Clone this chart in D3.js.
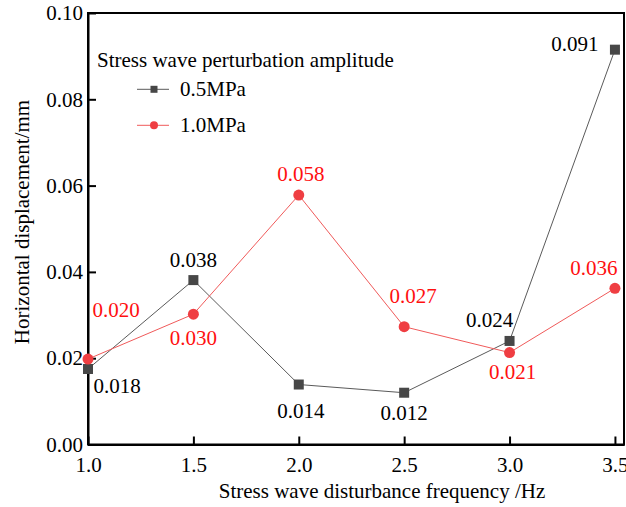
<!DOCTYPE html>
<html>
<head>
<meta charset="utf-8">
<script src="https://cdn.jsdelivr.net/npm/d3@7"></script>
<style>
  html, body { margin: 0; padding: 0; background: #fff; }
  svg { display: block; font-family: "Liberation Serif", "Times New Roman", serif; }
</style>
</head>
<body>
<svg id="chart" width="626" height="507"></svg>
<script>
// ---- data ----
const frequencies = [1.0, 1.5, 2.0, 2.5, 3.0, 3.5];
const seriesNames = ["0.5MPa", "1.0MPa"];
const values05 = [0.0175, 0.0381, 0.0139, 0.0120, 0.0240, 0.0915];
const values10 = [0.0198, 0.0302, 0.0578, 0.0273, 0.0213, 0.0362];
const labels05 = ["0.018", "0.038", "0.014", "0.012", "0.024", "0.091"];
const labels10 = ["0.020", "0.030", "0.058", "0.027", "0.021", "0.036"];
const xTicks = [1.0, 1.5, 2.0, 2.5, 3.0, 3.5];
const yTicks = [0.00, 0.02, 0.04, 0.06, 0.08, 0.10];
const legendTitle = "Stress wave perturbation amplitude";
const xTitle = "Stress wave disturbance frequency /Hz";
const yTitle = "Horizontal displacement/mm";

// ---- label placement (pixel offsets from each point) ----
const offsets05 = [[29, 24], [0, -13], [2, 33], [0, 27], [-20, -14], [-40, 1]];
const offsets10 = [[28, -42], [0, 31], [2, -14], [9, -24], [3, 26], [-21, -13]];

const W = 626, H = 507;
const margin = { left: 88, right: 2, top: 13, bottom: 62.5 };
const svg = d3.select("#chart");

const x = d3.scaleLinear().domain([1.0, 3.543]).range([margin.left, W - margin.right]);
const y = d3.scaleLinear().domain([0, 0.1]).range([H - margin.bottom, margin.top]);

const FONT = 21;

// frame
svg.append("rect")
  .attr("x", x.range()[0]).attr("y", y.range()[1])
  .attr("width", x.range()[1] - x.range()[0])
  .attr("height", y.range()[0] - y.range()[1])
  .attr("fill", "none").attr("stroke", "#000").attr("stroke-width", 2);

// axes
const xAxis = d3.axisBottom(x).tickValues(xTicks).tickSizeInner(-8).tickSizeOuter(0)
  .tickFormat(d3.format(".1f")).tickPadding(17);
const gx = svg.append("g").attr("transform", `translate(0,${y.range()[0]})`).call(xAxis);
gx.select(".domain").attr("stroke-width", 2);
gx.selectAll(".tick line").attr("stroke-width", 2);
gx.selectAll(".tick text").attr("font-size", FONT).attr("font-family", "Liberation Serif").attr("fill", "#000")
  .attr("dy", "0.5em");

const yAxis = d3.axisLeft(y).tickValues(yTicks).tickSizeInner(-8).tickSizeOuter(0)
  .tickFormat(d3.format(".2f")).tickPadding(5);
const gy = svg.append("g").attr("transform", `translate(${x.range()[0]},0)`).call(yAxis);
gy.select(".domain").attr("stroke-width", 2);
gy.selectAll(".tick line").attr("stroke-width", 2);
gy.selectAll(".tick text").attr("font-size", FONT).attr("font-family", "Liberation Serif").attr("fill", "#000");

// titles
svg.append("text").attr("x", 382).attr("y", 498).attr("text-anchor", "middle")
  .attr("font-size", FONT).text(xTitle);
svg.append("text").attr("transform", "translate(29,222) rotate(-90)").attr("text-anchor", "middle")
  .attr("font-size", FONT).text(yTitle);

// series
const series = [
  { name: seriesNames[0], values: values05, labels: labels05, offsets: offsets05,
    line: "#5a5a5a", marker: "#474747", text: "#000", shape: "square" },
  { name: seriesNames[1], values: values10, labels: labels10, offsets: offsets10,
    line: "#f05a5a", marker: "#ef3e42", text: "#ff1010", shape: "circle" }
];

const lineGen = d3.line().x((d, i) => x(frequencies[i])).y(d => y(d));

function drawMarker(g, s, cx, cy, size) {
  if (s.shape === "square") {
    g.append("rect").attr("x", cx - size / 2).attr("y", cy - size / 2)
      .attr("width", size).attr("height", size).attr("fill", s.marker);
  } else {
    g.append("circle").attr("cx", cx).attr("cy", cy).attr("r", size / 2 + 0.5).attr("fill", s.marker);
  }
}

series.forEach(s => {
  const g = svg.append("g");
  g.append("path").datum(s.values).attr("d", lineGen)
    .attr("fill", "none").attr("stroke", s.line).attr("stroke-width", 1);
  s.values.forEach((v, i) => drawMarker(g, s, x(frequencies[i]), y(v), 10));
});
series.forEach(s => {
  s.values.forEach((v, i) => {
    svg.append("text")
      .attr("x", x(frequencies[i]) + s.offsets[i][0])
      .attr("y", y(v) + s.offsets[i][1])
      .attr("text-anchor", "middle").attr("font-size", FONT).attr("fill", s.text)
      .text(s.labels[i]);
  });
});

// legend
const lg = svg.append("g");
lg.append("text").attr("x", 97).attr("y", 66.5).attr("font-size", FONT).text(legendTitle);
series.forEach((s, i) => {
  const ly = 89.3 + i * 36;
  lg.append("line").attr("x1", 137).attr("x2", 169).attr("y1", ly).attr("y2", ly)
    .attr("stroke", s.line).attr("stroke-width", 1);
  drawMarker(lg, s, 154, ly, 7);
  lg.append("text").attr("x", 180).attr("y", ly + 6.5).attr("font-size", FONT).attr("fill", "#000").text(s.name);
});
</script>
</body>
</html>
